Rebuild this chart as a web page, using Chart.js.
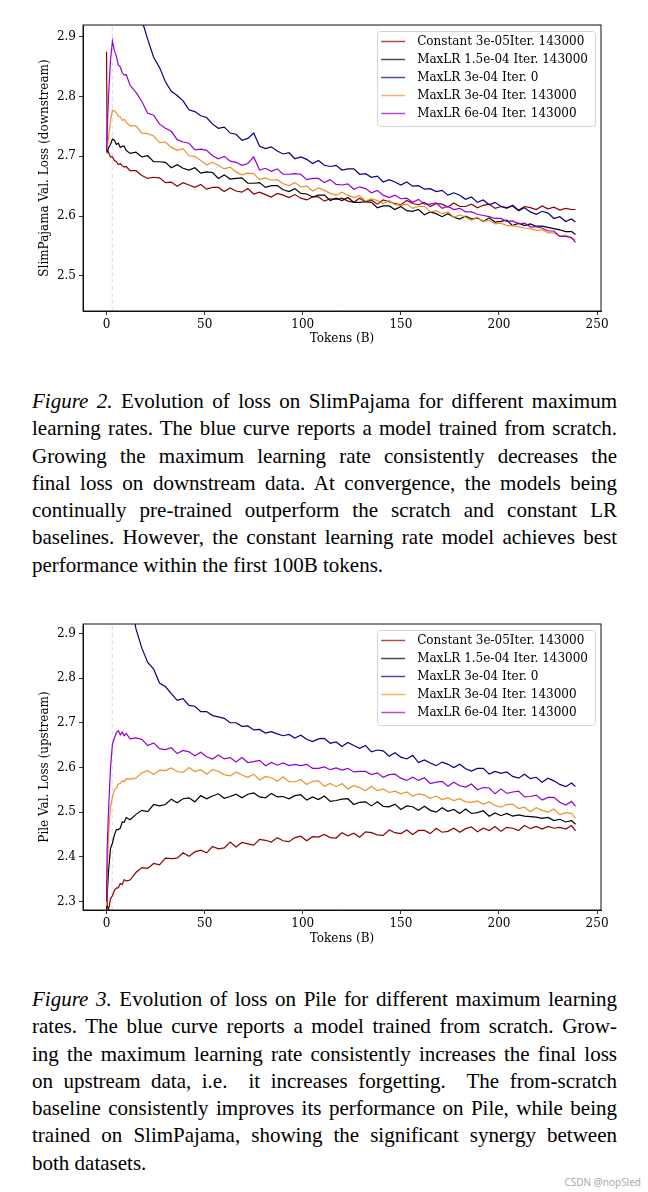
<!DOCTYPE html>
<html><head><meta charset="utf-8">
<script src="https://cdn.jsdelivr.net/npm/chart.js@4"></script>
<style>
html,body{margin:0;padding:0;background:#fff;}
body{width:648px;height:1192px;position:relative;overflow:hidden;}
canvas{position:absolute;left:0;}
#c1{top:0}
#c2{top:600px}
.cap{position:absolute;left:32px;width:585px;font-family:"Liberation Serif","Times New Roman",serif;font-size:21px;line-height:27.3px;color:#000;}
.cap div{text-align:justify;text-align-last:justify;}
.cap div.last{text-align:left;text-align-last:left;}
#cap1{top:388px}
#cap2{top:986px}
#wm{position:absolute;right:7px;top:1175px;font-family:"Noto Sans",sans-serif;font-size:10px;color:#aaa;}
</style></head>
<body>
<canvas id="c1" width="648" height="360"></canvas>
<div class="cap" id="cap1">
<div><i>Figure 2.</i> Evolution of loss on SlimPajama for different maximum</div>
<div>learning rates. The blue curve reports a model trained from scratch.</div>
<div>Growing the maximum learning rate consistently decreases the</div>
<div>final loss on downstream data. At convergence, the models being</div>
<div>continually pre-trained outperform the scratch and constant LR</div>
<div>baselines. However, the constant learning rate model achieves best</div>
<div class="last">performance within the first 100B tokens.</div>
</div>
<canvas id="c2" width="648" height="360"></canvas>
<div class="cap" id="cap2">
<div><i>Figure 3.</i> Evolution of loss on Pile for different maximum learning</div>
<div>rates. The blue curve reports a model trained from scratch. Grow-</div>
<div>ing the maximum learning rate consistently increases the final loss</div>
<div>on upstream data, i.e.&nbsp; it increases forgetting.&nbsp; The from-scratch</div>
<div>baseline consistently improves its performance on Pile, while being</div>
<div>trained on SlimPajama, showing the significant synergy between</div>
<div class="last">both datasets.</div>
</div>
<div id="wm">CSDN @nopSled</div>
<script>
const tokens = [0,0.3,1,2,3,4,5,6,7,8,9,10,12,15,18,21,24,27,30,33,36,39,42,45,48,51,54,57,60,63,66,69,72,75,78,81,84,87,90,93,96,99,102,105,108,111,114,117,120,123,126,129,132,135,138,141,144,147,150,153,156,159,162,165,168,171,174,177,180,183,186,189,192,195,198,201,204,207,210,213,216,219,222,225,228,231,234,237,239];
const xTicks = [0,50,100,150,200,250];
const yTicksSlim = [2.5,2.6,2.7,2.8,2.9];
const yTicksPile = [2.3,2.4,2.5,2.6,2.7,2.8,2.9];
const warmupEnd = 2.9;
const labels = ['Constant 3e-05Iter. 143000','MaxLR 1.5e-04 Iter. 143000','MaxLR 3e-04 Iter. 0','MaxLR 3e-04 Iter. 143000','MaxLR 6e-04 Iter. 143000'];
const colors = ['#8b0000','#000000','#00008b','#f28e2b','#9400d3'];

// SlimPajama (downstream)
const slimConst = [2.875,2.712,2.707,2.699,2.699,2.693,2.691,2.686,2.688,2.684,2.682,2.683,
2.676,2.676,2.668,2.663,2.665,2.664,2.656,2.657,2.650,2.656,2.652,2.648,
2.653,2.645,2.648,2.648,2.641,2.647,2.642,2.640,2.646,2.637,2.640,2.636,
2.632,2.638,2.635,2.631,2.636,2.630,2.627,2.632,2.632,2.625,2.629,2.628,
2.630,2.625,2.623,2.630,2.624,2.627,2.620,2.627,2.624,2.621,2.619,2.626,
2.621,2.619,2.623,2.616,2.621,2.620,2.615,2.622,2.616,2.616,2.620,2.614,
2.618,2.620,2.613,2.616,2.613,2.618,2.610,2.616,2.614,2.611,2.617,2.612,
2.615,2.610,2.613,2.611,2.611];
const slimLow = [2.711,2.707,2.714,2.720,2.729,2.727,2.720,2.722,2.715,2.717,2.717,2.710,
2.705,2.707,2.699,2.701,2.691,2.691,2.690,2.681,2.686,2.680,2.677,2.681,
2.672,2.674,2.673,2.663,2.669,2.662,2.663,2.664,2.655,2.655,2.656,2.648,
2.651,2.651,2.644,2.641,2.646,2.638,2.637,2.632,2.635,2.635,2.626,2.630,
2.626,2.631,2.623,2.623,2.624,2.623,2.614,2.617,2.617,2.611,2.616,2.609,
2.608,2.611,2.602,2.607,2.604,2.599,2.604,2.598,2.595,2.600,2.595,2.597,
2.591,2.597,2.590,2.591,2.593,2.584,2.588,2.584,2.587,2.583,2.583,2.581,
2.579,2.577,2.574,2.574,2.569];
const slimScratch = [null,null,null,null,null,null,null,null,null,null,null,null,
3.019,2.961,2.928,2.896,2.866,2.849,2.825,2.809,2.802,2.793,2.778,2.775,
2.768,2.765,2.754,2.747,2.749,2.739,2.737,2.727,2.730,2.739,2.717,2.713,
2.716,2.709,2.704,2.706,2.696,2.699,2.695,2.688,2.693,2.685,2.683,2.685,
2.677,2.679,2.679,2.670,2.671,2.665,2.667,2.657,2.661,2.657,2.652,2.657,
2.650,2.651,2.645,2.646,2.641,2.643,2.635,2.639,2.635,2.628,2.632,2.623,
2.627,2.619,2.623,2.616,2.614,2.617,2.609,2.614,2.607,2.603,2.608,2.605,
2.596,2.599,2.591,2.595,2.590];
const slimMid = [2.710,2.713,2.731,2.760,2.777,2.776,2.773,2.767,2.766,2.760,2.762,2.757,
2.751,2.751,2.739,2.738,2.734,2.723,2.724,2.715,2.710,2.713,2.701,2.700,
2.693,2.686,2.690,2.685,2.679,2.682,2.674,2.669,2.672,2.671,2.661,2.664,
2.660,2.661,2.654,2.651,2.656,2.649,2.650,2.642,2.647,2.643,2.638,2.635,
2.640,2.635,2.631,2.634,2.625,2.629,2.626,2.621,2.626,2.619,2.618,2.620,
2.613,2.616,2.616,2.607,2.609,2.604,2.607,2.598,2.602,2.598,2.593,2.598,
2.591,2.593,2.587,2.588,2.584,2.584,2.582,2.580,2.579,2.576,2.577,2.572,
2.572,2.566,2.568,2.563,2.560];
const slimHigh = [2.710,2.741,2.800,2.861,2.893,2.877,2.868,2.853,2.850,2.840,2.836,2.837,
2.819,2.807,2.792,2.772,2.769,2.754,2.747,2.742,2.728,2.724,2.722,2.711,
2.712,2.710,2.701,2.696,2.700,2.692,2.690,2.685,2.688,2.699,2.677,2.680,
2.675,2.679,2.670,2.670,2.671,2.670,2.661,2.663,2.663,2.656,2.661,2.653,
2.652,2.654,2.645,2.649,2.646,2.639,2.643,2.635,2.631,2.635,2.629,2.630,
2.623,2.628,2.620,2.620,2.622,2.613,2.616,2.611,2.613,2.607,2.607,2.603,
2.601,2.599,2.596,2.596,2.591,2.592,2.587,2.588,2.582,2.582,2.580,2.575,
2.575,2.566,2.566,2.564,2.556];

// Pile (upstream)
const pileConst = [2.350,2.292,2.281,2.306,2.313,2.325,2.330,2.331,2.340,2.338,2.349,2.346,
2.348,2.365,2.376,2.374,2.385,2.382,2.397,2.396,2.397,2.409,2.401,2.411,
2.415,2.409,2.423,2.418,2.420,2.433,2.422,2.432,2.429,2.426,2.439,2.437,
2.433,2.443,2.436,2.434,2.443,2.446,2.436,2.445,2.444,2.450,2.443,2.442,
2.454,2.447,2.453,2.444,2.456,2.454,2.449,2.448,2.460,2.454,2.452,2.460,
2.450,2.459,2.459,2.452,2.464,2.455,2.457,2.464,2.455,2.463,2.467,2.456,
2.464,2.459,2.468,2.457,2.466,2.464,2.459,2.470,2.463,2.468,2.462,2.468,
2.464,2.466,2.462,2.470,2.458];
const pileLow = [2.280,2.311,2.367,2.418,2.431,2.449,2.461,2.461,2.464,2.478,2.477,2.488,
2.483,2.495,2.504,2.501,2.517,2.514,2.517,2.529,2.521,2.530,2.532,2.523,
2.537,2.530,2.536,2.541,2.531,2.535,2.540,2.532,2.540,2.543,2.534,2.532,
2.542,2.534,2.535,2.530,2.537,2.539,2.527,2.534,2.528,2.536,2.524,2.526,
2.529,2.530,2.517,2.522,2.523,2.514,2.523,2.513,2.512,2.518,2.506,2.514,
2.512,2.504,2.513,2.504,2.500,2.510,2.502,2.506,2.497,2.507,2.497,2.499,
2.503,2.491,2.498,2.492,2.497,2.491,2.494,2.491,2.490,2.489,2.486,2.488,
2.481,2.484,2.478,2.481,2.473];
const pileScratch = [null,null,null,null,null,null,null,null,null,null,null,null,
2.986,2.910,2.867,2.835,2.820,2.789,2.781,2.765,2.750,2.754,2.739,2.737,
2.725,2.725,2.716,2.713,2.710,2.700,2.700,2.692,2.693,2.684,2.685,2.677,
2.680,2.675,2.671,2.674,2.666,2.672,2.663,2.658,2.664,2.665,2.654,2.657,
2.647,2.656,2.649,2.643,2.649,2.635,2.639,2.637,2.625,2.633,2.623,2.619,
2.627,2.611,2.617,2.610,2.604,2.612,2.607,2.600,2.607,2.597,2.592,2.598,
2.598,2.585,2.591,2.587,2.590,2.580,2.576,2.585,2.575,2.578,2.567,2.576,
2.570,2.562,2.557,2.565,2.557];
const pileMid = [2.290,2.352,2.448,2.512,2.533,2.550,2.553,2.563,2.564,2.570,2.568,2.575,
2.574,2.576,2.588,2.593,2.584,2.594,2.593,2.599,2.591,2.589,2.600,2.591,
2.595,2.585,2.595,2.591,2.584,2.581,2.590,2.583,2.578,2.585,2.572,2.580,
2.577,2.569,2.579,2.568,2.568,2.573,2.562,2.569,2.570,2.558,2.564,2.557,
2.564,2.552,2.559,2.555,2.548,2.558,2.548,2.552,2.544,2.547,2.541,2.545,
2.536,2.541,2.538,2.531,2.536,2.528,2.532,2.526,2.530,2.523,2.522,2.525,
2.518,2.523,2.515,2.511,2.517,2.518,2.508,2.511,2.501,2.510,2.504,2.500,
2.507,2.494,2.499,2.497,2.486];
const pileHigh = [2.300,2.420,2.502,2.598,2.652,2.666,2.678,2.682,2.673,2.679,2.671,2.676,
2.664,2.666,2.663,2.649,2.655,2.642,2.640,2.644,2.631,2.638,2.635,2.626,
2.634,2.624,2.619,2.628,2.619,2.622,2.612,2.622,2.611,2.613,2.616,2.604,
2.611,2.605,2.610,2.604,2.607,2.604,2.607,2.598,2.598,2.601,2.595,2.599,
2.594,2.598,2.590,2.591,2.591,2.584,2.588,2.578,2.584,2.585,2.576,2.571,
2.578,2.571,2.577,2.564,2.567,2.569,2.558,2.567,2.559,2.556,2.563,2.550,
2.555,2.554,2.541,2.552,2.542,2.545,2.547,2.534,2.535,2.538,2.527,2.533,
2.533,2.522,2.516,2.524,2.513];

const FONT = '"DejaVu Serif", serif';
const FS = 12;
Chart.defaults.font.family = FONT;
Chart.defaults.font.size = FS;
Chart.defaults.color = '#000';

const framePlugin = {
  id: 'frame',
  afterDatasetsDraw(chart) {
    const a = chart.chartArea, ctx = chart.ctx;
    ctx.save();
    ctx.strokeStyle = '#111';
    ctx.lineWidth = 1;
    ctx.strokeRect(a.left, a.top, a.right - a.left, a.bottom - a.top);
    ctx.restore();
  }
};
const legendPlugin = {
  id: 'boxLegend',
  afterDraw(chart) {
    const ctx = chart.ctx, a = chart.chartArea;
    ctx.save();
    ctx.font = FS + 'px ' + FONT;
    const maxW = Math.max(...labels.map(l => ctx.measureText(l).width));
    const w = 40 + maxW + 7, h = 95;
    const right = a.right - 6, left = right - w, top = a.top + 6;
    ctx.beginPath();
    ctx.roundRect(left + 0.5, top + 0.5, w, h, 3);
    ctx.fillStyle = 'rgba(255,255,255,0.85)';
    ctx.fill();
    ctx.strokeStyle = '#d4d4d4';
    ctx.lineWidth = 1;
    ctx.stroke();
    labels.forEach((l, i) => {
      const y = top + 10.5 + 18 * i;
      ctx.globalAlpha = 0.7;
      ctx.strokeStyle = colors[i];
      ctx.lineWidth = 1.5;
      ctx.beginPath(); ctx.moveTo(left + 4, y); ctx.lineTo(left + 28, y); ctx.stroke();
      ctx.globalAlpha = 1;
      ctx.fillStyle = '#000';
      ctx.textBaseline = 'middle';
      ctx.fillText(l, left + 40, y + 0.5);
    });
    ctx.restore();
  }
};

function build(id, series, yMin, yMax, yTicks, yTitle, topPad, xHeight) {
  const datasets = series.map((vals, i) => ({
    label: labels[i],
    data: vals.map((v, j) => ({x: tokens[j], y: v})),
    borderColor: colors[i], borderWidth: 1.2, pointRadius: 0, fill: false, tension: 0,
    spanGaps: false, order: 5 - i
  }));
  datasets.push({
    label: 'warmup', data: [{x: warmupEnd, y: yMin}, {x: warmupEnd, y: yMax}],
    borderColor: '#cfcfcf', borderWidth: 0.8, borderDash: [4, 3], pointRadius: 0, order: 10
  });
  new Chart(document.getElementById(id), {
    type: 'line',
    data: {datasets},
    plugins: [framePlugin, legendPlugin],
    options: {
      responsive: false, animation: false, events: [],
      layout: {padding: {left: 0, right: 47, top: topPad, bottom: 0}},
      plugins: {legend: {display: false}, tooltip: {enabled: false}},
      scales: {
        x: {
          type: 'linear', min: -12, max: 252,
          afterBuildTicks: s => { s.ticks = xTicks.map(v => ({value: v})); },
          afterFit: s => { s.height = xHeight; },
          ticks: {padding: 3, maxRotation: 0, autoSkip: false, callback: v => String(v)},
          grid: {drawOnChartArea: false, drawTicks: true, tickLength: 4, color: '#000', lineWidth: 0.8},
          border: {display: true, color: '#111', width: 1},
          title: {display: true, text: 'Tokens (B)', padding: {top: 0, bottom: 13.5}}
        },
        y: {
          type: 'linear', min: yMin, max: yMax,
          afterBuildTicks: s => { s.ticks = yTicks.map(v => ({value: v})); },
          afterFit: s => { s.width = 83; },
          ticks: {padding: 3, autoSkip: false, callback: v => Number(v).toFixed(1)},
          grid: {drawOnChartArea: false, drawTicks: true, tickLength: 4, color: '#000', lineWidth: 0.8},
          border: {display: true, color: '#111', width: 1},
          title: {display: true, text: yTitle, padding: {top: 37.5, bottom: 0}}
        }
      }
    }
  });
}

build('c1', [slimConst, slimLow, slimScratch, slimMid, slimHigh], 2.441, 2.92, yTicksSlim,
      'SlimPajama Val. Loss (downstream)', 25, 49);
build('c2', [pileConst, pileLow, pileScratch, pileMid, pileHigh], 2.281, 2.921, yTicksPile,
      'Pile Val. Loss (upstream)', 24, 50);
</script>
</body></html>
